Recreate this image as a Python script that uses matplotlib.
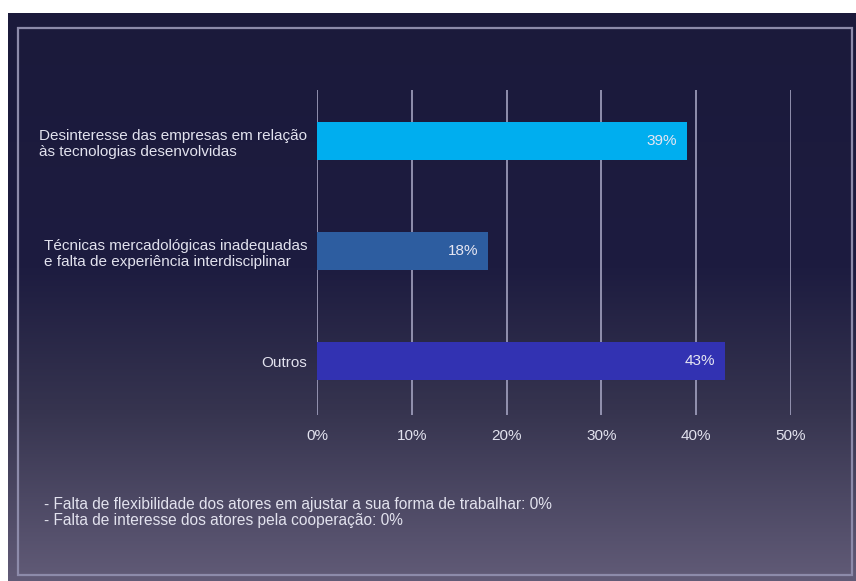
import matplotlib
matplotlib.use("Agg")
import matplotlib.pyplot as plt
import numpy as np
from matplotlib.colors import LinearSegmentedColormap
from matplotlib.patches import Rectangle

plt.rcParams['font.family'] = ['Liberation Sans', 'DejaVu Sans']

# dados do gráfico
categorias = [
    "Desinteresse das empresas em relação\nàs tecnologias desenvolvidas",
    "Técnicas mercadológicas inadequadas\ne falta de experiência interdisciplinar",
    "Outros",
]
valores = [39, 18, 43]
cores = ["#00AEEF", "#2D5DA0", "#3232B2"]
ticks = [0, 10, 20, 30, 40, 50]
notas = [
    "- Falta de flexibilidade dos atores em ajustar a sua forma de trabalhar: 0%",
    "- Falta de interesse dos atores pela cooperação: 0%",
]

W, H = 856, 581
fig = plt.figure(figsize=(W / 100, H / 100), dpi=100)
fig.patch.set_facecolor("white")

# fundo em degradê
bg = fig.add_axes([8 / W, 0, 1 - 8 / W, 1 - 13 / H])
bg.set_axis_off()
grad_cmap = LinearSegmentedColormap.from_list(
    "fundo", [(0.0, "#1B1A3B"), (0.45, "#1D1C40"), (0.7, "#36344F"), (1.0, "#615B77")])
grad = np.linspace(0, 1, 256).reshape(-1, 1)
bg.imshow(grad, aspect="auto", cmap=grad_cmap, extent=[0, 1, 1, 0])
bg.set_xlim(0, 1)
bg.set_ylim(1, 0)

# moldura
fig.patches.append(Rectangle((18 / W, 6 / H), (852 - 18) / W, (575 - 28) / H,
                             transform=fig.transFigure, fill=False,
                             edgecolor="#8D8BAA", linewidth=1.6, zorder=5))

ax = fig.add_axes([317 / W, (H - 415) / H, (791 - 317) / W, (415 - 90) / H])
ax.set_facecolor("none")
y = np.arange(len(categorias))
ax.barh(y, valores, height=0.34, color=cores, zorder=3)
for v, yy in zip(valores, y):
    ax.annotate(f"{v}%", (v, yy), xytext=(-7, 0), textcoords="offset points",
                ha="right", va="center", color="#E6E6F2", fontsize=11, zorder=4)

ax.set_xlim(0, 50)
ax.set_ylim(2.49, -0.465)
ax.set_xticks(ticks)
ax.set_xticklabels([f"{t}%" for t in ticks])
ax.set_yticks(y)
ax.set_yticklabels(categorias, linespacing=1.2, multialignment="left")
ax.tick_params(axis="both", length=0, colors="#E2E2EE", labelsize=11)
ax.tick_params(axis="x", pad=10)
ax.tick_params(axis="y", pad=7)
for lbl in ax.get_yticklabels():
    lbl.set_va("center_baseline")
ax.xaxis.grid(True, color="#A3A2C0", linewidth=1.2, zorder=1)
ax.set_axisbelow(True)
for s in ax.spines.values():
    s.set_visible(False)

for i, nota in enumerate(notas):
    fig.text(44 / W, 1 - (505 + 16 * i) / H, nota, color="#E2E2EE",
             fontsize=11.2, va="center", ha="left")

fig.savefig("out.png", dpi=100, facecolor=fig.get_facecolor())
